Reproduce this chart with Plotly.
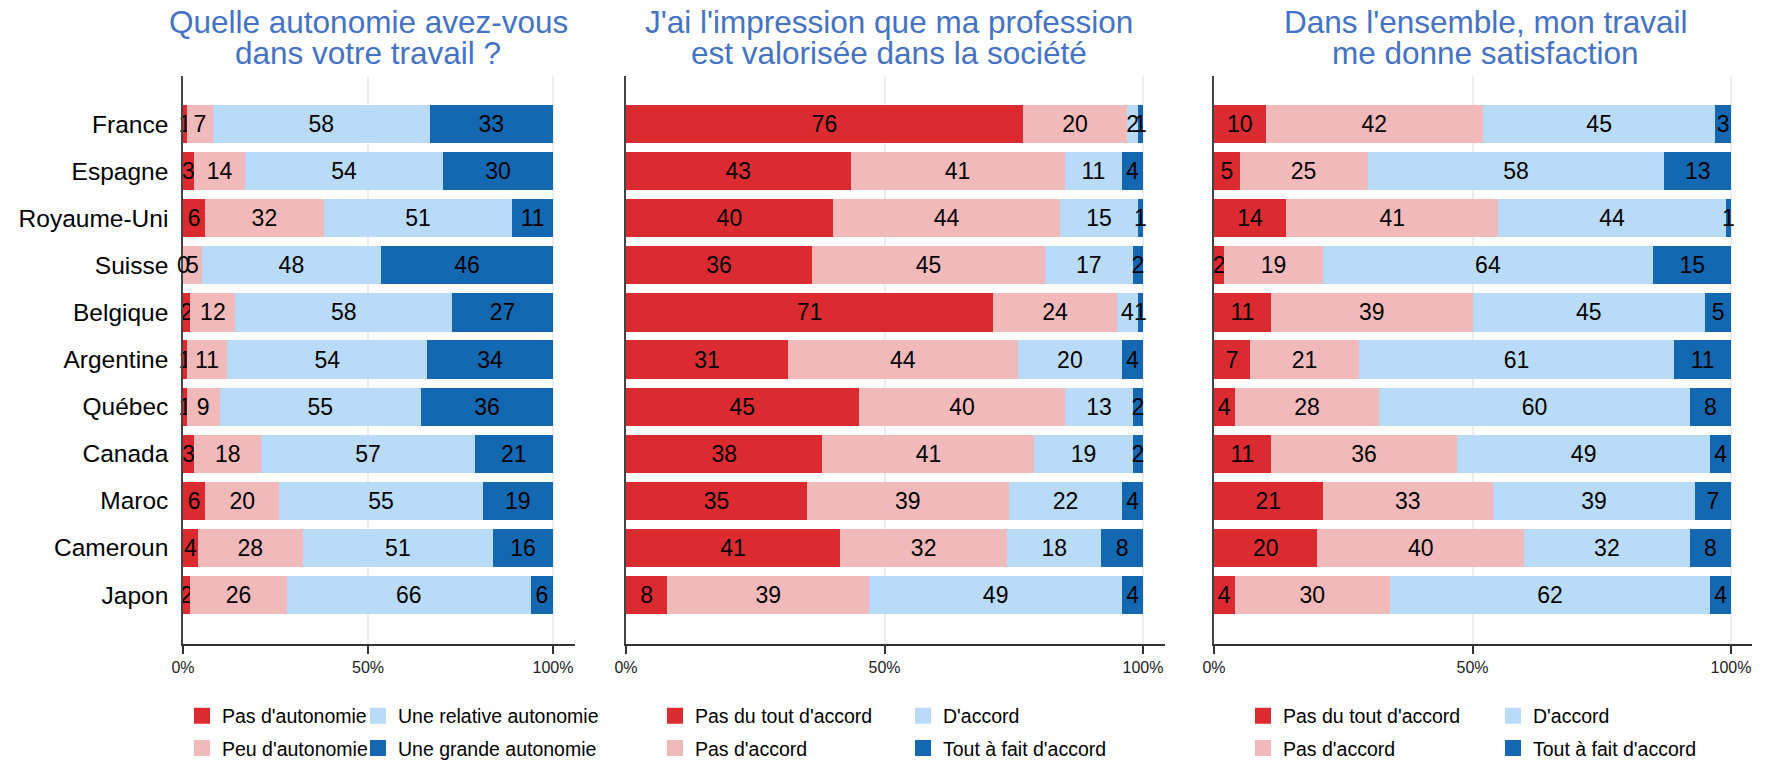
import plotly.graph_objects as go

W, H = 1775, 764

countries = ["France", "Espagne", "Royaume-Uni", "Suisse", "Belgique", "Argentine",
             "Québec", "Canada", "Maroc", "Cameroun", "Japon"]

# Panel 1 : autonomie
titre1 = ["Quelle autonomie avez-vous", "dans votre travail ?"]
noms1 = ["Pas d'autonomie", "Peu d'autonomie", "Une relative autonomie", "Une grande autonomie"]
auto_pas = [1, 3, 6, 0, 2, 1, 1, 3, 6, 4, 2]
auto_peu = [7, 14, 32, 5, 12, 11, 9, 18, 20, 28, 26]
auto_relative = [58, 54, 51, 48, 58, 54, 55, 57, 55, 51, 66]
auto_grande = [33, 30, 11, 46, 27, 34, 36, 21, 19, 16, 6]

# Panel 2 : profession valorisée
titre2 = ["J'ai l'impression que ma profession", "est valorisée dans la société"]
noms_accord = ["Pas du tout d'accord", "Pas d'accord", "D'accord", "Tout à fait d'accord"]
valo_pdt = [76, 43, 40, 36, 71, 31, 45, 38, 35, 41, 8]
valo_pas = [20, 41, 44, 45, 24, 44, 40, 41, 39, 32, 39]
valo_acc = [2, 11, 15, 17, 4, 20, 13, 19, 22, 18, 49]
valo_taf = [1, 4, 1, 2, 1, 4, 2, 2, 4, 8, 4]

# Panel 3 : satisfaction
titre3 = ["Dans l'ensemble, mon travail", "me donne satisfaction"]
sat_pdt = [10, 5, 14, 2, 11, 7, 4, 11, 21, 20, 4]
sat_pas = [42, 25, 41, 19, 39, 21, 28, 36, 33, 40, 30]
sat_acc = [45, 58, 44, 64, 45, 61, 60, 49, 39, 32, 62]
sat_taf = [3, 13, 1, 15, 5, 11, 8, 4, 7, 8, 4]

tick_vals = [0, 50, 100]
tick_text = ["0%", "50%", "100%"]

colors = ["#DC2B30", "#F2B9BA", "#B9DBF7", "#1467B1"]
FONT = "Arial, Liberation Sans, sans-serif"
TITLE_COLOR = "#4472C4"
BAR_FS = 23

panels = [
    dict(ax="", names=noms1, series=[auto_pas, auto_peu, auto_relative, auto_grande],
         title=titre1, x0=183, x100=553, xend=575, tcx=368,
         legx=(182, 358), legs=("legend", "legend2")),
    dict(ax="2", names=noms_accord, series=[valo_pdt, valo_pas, valo_acc, valo_taf],
         title=titre2, x0=626, x100=1143, xend=1165, tcx=889,
         legx=(655, 903), legs=("legend3", "legend4")),
    dict(ax="3", names=noms_accord, series=[sat_pdt, sat_pas, sat_acc, sat_taf],
         title=titre3, x0=1214, x100=1731, xend=1752, tcx=1485,
         legx=(1243, 1493), legs=("legend5", "legend6")),
]

fig = go.Figure()
y_top, y_bot = 76, 644
ydom = [1 - y_bot / H, 1 - y_top / H]

annotations = []
layout = {}
for pi, p in enumerate(panels):
    xa = "x" + p["ax"]
    ya = "y" + p["ax"]
    totals = [sum(v) for v in zip(*p["series"])]
    cum = [0.0] * len(countries)
    for i, (name, vals) in enumerate(zip(p["names"], p["series"])):
        fig.add_trace(go.Bar(
            y=countries, x=vals, orientation="h", name=name,
            marker=dict(color=colors[i], line=dict(width=0)),
            text=[str(v) for v in vals], textposition="inside",
            insidetextanchor="middle", textangle=0,
            textfont=dict(family=FONT, size=BAR_FS, color="black"),
            xaxis=xa, yaxis=ya, showlegend=False,
            hoverinfo="skip", cliponaxis=False,
        ))
        # legend entry (larger swatch than the default bar symbol)
        fig.add_trace(go.Scatter(
            x=[None], y=[None], mode="markers", name=name,
            marker=dict(symbol="square", size=16, color=colors[i]),
            xaxis=xa, yaxis=ya, legend=p["legs"][i // 2],
            legendgroup=f"p{pi}s{i}", hoverinfo="skip",
        ))
        # zero-valued segments: plotly draws no text on empty bars
        for c, v, t, s in zip(countries, vals, totals, cum):
            if v == 0:
                annotations.append(dict(
                    text=str(v), x=100 * s / t, y=c, xref=xa, yref=ya,
                    showarrow=False, xanchor="center", yanchor="middle",
                    font=dict(family=FONT, size=BAR_FS, color="black"),
                ))
        cum = [a + b for a, b in zip(cum, vals)]
    rng_max = 100 * (p["xend"] - p["x0"]) / (p["x100"] - p["x0"])
    layout["xaxis" + p["ax"]] = dict(
        domain=[p["x0"] / W, p["xend"] / W], range=[0, rng_max], anchor=ya,
        tickvals=tick_vals, ticktext=tick_text, ticks="outside", ticklen=8,
        tickcolor="#333333", tickwidth=1.5,
        tickfont=dict(family=FONT, size=16, color="#222222"),
        showline=True, linecolor="#333333", linewidth=1.5,
        showgrid=True, gridcolor="#EDEDED", gridwidth=1.5, zeroline=False,
        fixedrange=True, automargin=False,
    )
    layout["yaxis" + p["ax"]] = dict(
        domain=ydom, anchor=xa, type="category",
        categoryorder="array", categoryarray=countries,
        range=[11.04, -1.02], showline=True, linecolor="#444444", linewidth=1.5,
        showgrid=False, zeroline=False, ticks="", ticklabelstandoff=8,
        showticklabels=(pi == 0), automargin=False,
        tickfont=dict(family=FONT, size=24.5, color="black"), fixedrange=True,
    )
    for line, yc in zip(p["title"], [21.5, 52.5]):
        annotations.append(dict(
            text=line, x=p["tcx"] / W, y=1 - yc / H, xref="paper", yref="paper",
            xanchor="center", yanchor="middle", showarrow=False,
            font=dict(family=FONT, size=31.5, color=TITLE_COLOR),
        ))
    for k in range(2):
        layout[p["legs"][k]] = dict(
            x=p["legx"][k] / W, y=1 - 732 / H, xanchor="left", yanchor="middle",
            orientation="v", bgcolor="rgba(0,0,0,0)", tracegroupgap=4,
            font=dict(family=FONT, size=19.5, color="black"),
            itemclick=False, itemdoubleclick=False,
        )

fig.update_layout(
    width=W, height=H, margin=dict(l=0, r=0, t=0, b=0, autoexpand=False),
    paper_bgcolor="white", plot_bgcolor="white",
    barmode="stack", barnorm="percent", bargap=0.19,
    uniformtext=dict(minsize=BAR_FS, mode="show"),
    annotations=annotations, showlegend=True,
    **layout,
)

fig.write_html(
    "out.html", config={"displayModeBar": False},
    post_script="document.body.style.margin='0';document.body.style.padding='0';",
)
